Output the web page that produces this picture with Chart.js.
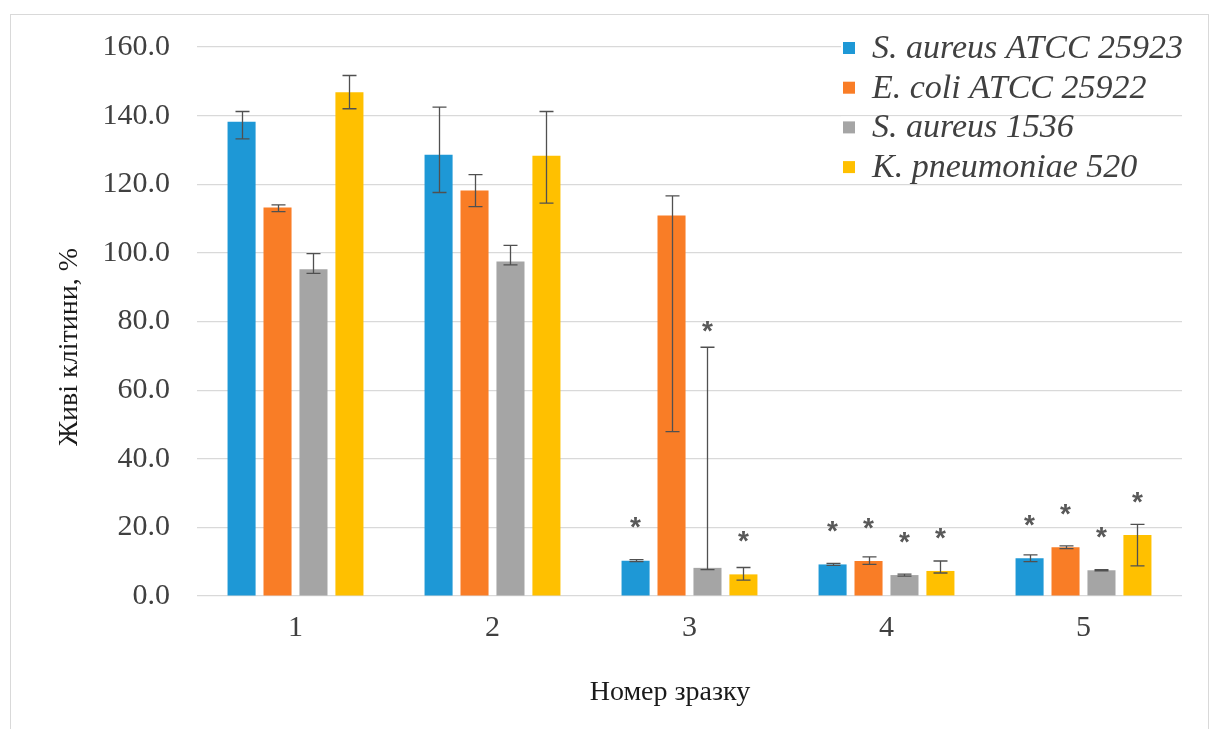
<!DOCTYPE html>
<html>
<head>
<meta charset="utf-8">
<script src="https://cdn.jsdelivr.net/npm/chart.js@4.4.1/dist/chart.umd.min.js"></script>
<style>
  html, body { margin: 0; padding: 0; background: #ffffff; }
  #wrap { position: relative; width: 1214px; height: 729px; overflow: hidden; }
  #frame { position: absolute; left: 10px; top: 14px; width: 1199px; height: 740px;
           border: 1px solid #d9d9d9; box-sizing: border-box; }
  #c { position: absolute; left: 0; top: 0; }
</style>
</head>
<body>
<div id="wrap">
  <div id="frame"></div>
  <canvas id="c" width="1214" height="729"></canvas>
</div>
<script>
// Sample numbers on the x axis
const categories = ['1', '2', '3', '4', '5'];

// Live cells, % (mean) and error bar extents for each strain
const saureusAtcc      = [138.2, 128.6, 10.3, 9.2, 11.0];
const saureusAtccPlus  = [3.0, 13.9, 0.3, 0.3, 1.0];
const saureusAtccMinus = [5.0, 11.0, 0.3, 0.3, 1.0];
const saureusAtccSig   = [false, false, true, true, true];

const ecoliAtcc        = [113.2, 118.2, 110.9, 10.2, 14.2];
const ecoliAtccPlus    = [0.8, 4.6, 5.7, 1.2, 0.4];
const ecoliAtccMinus   = [1.2, 4.7, 63.0, 1.0, 0.4];
const ecoliAtccSig     = [false, false, false, true, true];

const saureus1536      = [95.2, 97.5, 8.2, 6.1, 7.5];
const saureus1536Plus  = [4.6, 4.7, 64.3, 0.3, 0.2];
const saureus1536Minus = [1.2, 1.0, 0.5, 0.3, 0.2];
const saureus1536Sig   = [false, false, true, true, true];

const kpneumoniae      = [146.8, 128.3, 6.3, 7.3, 17.8];
const kpneumoniaePlus  = [4.9, 12.9, 2.0, 2.9, 3.1];
const kpneumoniaeMinus = [4.8, 13.8, 1.7, 0.6, 9.0];
const kpneumoniaeSig   = [false, false, true, true, true];

// Y axis ticks
const yTicks = [0, 20, 40, 60, 80, 100, 120, 140, 160];

const seriesLabels = ['S. aureus ATCC 25923', 'E. coli ATCC 25922', 'S. aureus 1536', 'K. pneumoniae 520'];
const seriesColors = ['#1e98d6', '#f97d26', '#a5a5a5', '#ffc000'];

const xTitle = 'Номер зразку';
const yTitle = 'Живі клітини, %';

const serif = '"Liberation Serif", "Times New Roman", serif';

const values = [saureusAtcc, ecoliAtcc, saureus1536, kpneumoniae];
const plusErr = [saureusAtccPlus, ecoliAtccPlus, saureus1536Plus, kpneumoniaePlus];
const minusErr = [saureusAtccMinus, ecoliAtccMinus, saureus1536Minus, kpneumoniaeMinus];
const sigFlags = [saureusAtccSig, ecoliAtccSig, saureus1536Sig, kpneumoniaeSig];

const datasets = values.map((v, i) => ({
  label: seriesLabels[i],
  data: v,
  backgroundColor: seriesColors[i],
  borderWidth: 0,
  errPlus: plusErr[i],
  errMinus: minusErr[i],
  sig: sigFlags[i]
}));

// Error bars with caps, plus significance asterisks
const errorBarPlugin = {
  id: 'errorBars',
  afterDatasetsDraw(chart) {
    const ctx = chart.ctx;
    const y = chart.scales.y;
    ctx.save();
    ctx.strokeStyle = '#505050';
    ctx.lineWidth = 1.3;
    chart.data.datasets.forEach((ds, di) => {
      const meta = chart.getDatasetMeta(di);
      meta.data.forEach((bar, i) => {
        const v = ds.data[i];
        const top = y.getPixelForValue(v + ds.errPlus[i]);
        const bot = y.getPixelForValue(v - ds.errMinus[i]);
        const x = Math.round(bar.x) + 0.5;
        const cap = 7;
        ctx.beginPath();
        ctx.moveTo(x, top); ctx.lineTo(x, bot);
        ctx.moveTo(x - cap, top); ctx.lineTo(x + cap, top);
        ctx.moveTo(x - cap, bot); ctx.lineTo(x + cap, bot);
        ctx.stroke();
      });
    });
    // asterisks
    ctx.fillStyle = '#595959';
    ctx.font = 'bold 28px "Liberation Sans", Arial, sans-serif';
    ctx.textAlign = 'center';
    ctx.textBaseline = 'alphabetic';
    const m = ctx.measureText('*');
    const shift = (m.actualBoundingBoxAscent - m.actualBoundingBoxDescent) / 2;
    chart.data.datasets.forEach((ds, di) => {
      const meta = chart.getDatasetMeta(di);
      meta.data.forEach((bar, i) => {
        if (!ds.sig[i]) return;
        const v = ds.data[i];
        const at = Math.max(v + 11, v + ds.errPlus[i] + 6);
        ctx.fillText('*', bar.x, y.getPixelForValue(at) + shift);
      });
    });
    ctx.restore();
  }
};

// Legend inside the plot (top right) and the two axis titles
const annotationsPlugin = {
  id: 'innerLegend',
  afterDraw(chart) {
    const ctx = chart.ctx;
    ctx.save();
    ctx.font = 'italic 34px ' + serif;
    ctx.textBaseline = 'middle';
    ctx.textAlign = 'left';
    const x0 = 843, rowH = 39.7, y0 = 48;
    chart.data.datasets.forEach((ds, i) => {
      const cy = y0 + i * rowH;
      const w = ctx.measureText(ds.label).width;
      ctx.fillStyle = '#ffffff';
      ctx.fillRect(x0 - 2, cy - 11, 30 + w + 4, 22);
      ctx.fillStyle = ds.backgroundColor;
      ctx.fillRect(x0, cy - 6, 12, 12);
      ctx.fillStyle = '#404040';
      ctx.fillText(ds.label, x0 + 29, cy + 1);
    });

    ctx.fillStyle = '#1a1a1a';
    ctx.font = '28px ' + serif;
    ctx.textAlign = 'center';
    ctx.textBaseline = 'middle';
    ctx.fillText(xTitle, 670, 693);
    ctx.translate(70, 347);
    ctx.rotate(-Math.PI / 2);
    ctx.fillText(yTitle, 0, 0);
    ctx.restore();
  }
};

new Chart(document.getElementById('c'), {
  type: 'bar',
  data: { labels: categories, datasets },
  plugins: [errorBarPlugin, annotationsPlugin],
  options: {
    responsive: false,
    animation: false,
    events: [],
    layout: { padding: { left: 0, top: 47, right: 32, bottom: 0 } },
    datasets: { bar: { categoryPercentage: 0.73, barPercentage: 0.78 } },
    plugins: { legend: { display: false }, tooltip: { enabled: false } },
    scales: {
      x: {
        grid: { display: false, drawTicks: false },
        border: { display: false },
        ticks: {
          color: '#404040',
          padding: 14,
          font: { family: serif, size: 30 }
        },
        afterFit(scale) { scale.height = 133; }
      },
      y: {
        min: 0,
        max: 160,
        afterBuildTicks(scale) { scale.ticks = yTicks.map(v => ({ value: v })); },
        grid: { color: '#d9d9d9', lineWidth: 1.2, drawTicks: false },
        border: { display: false },
        ticks: {
          color: '#404040',
          padding: 27,
          font: { family: serif, size: 30 },
          callback: v => Number(v).toFixed(1)
        },
        afterFit(scale) { scale.width = 197; }
      }
    }
  }
});
</script>
</body>
</html>
